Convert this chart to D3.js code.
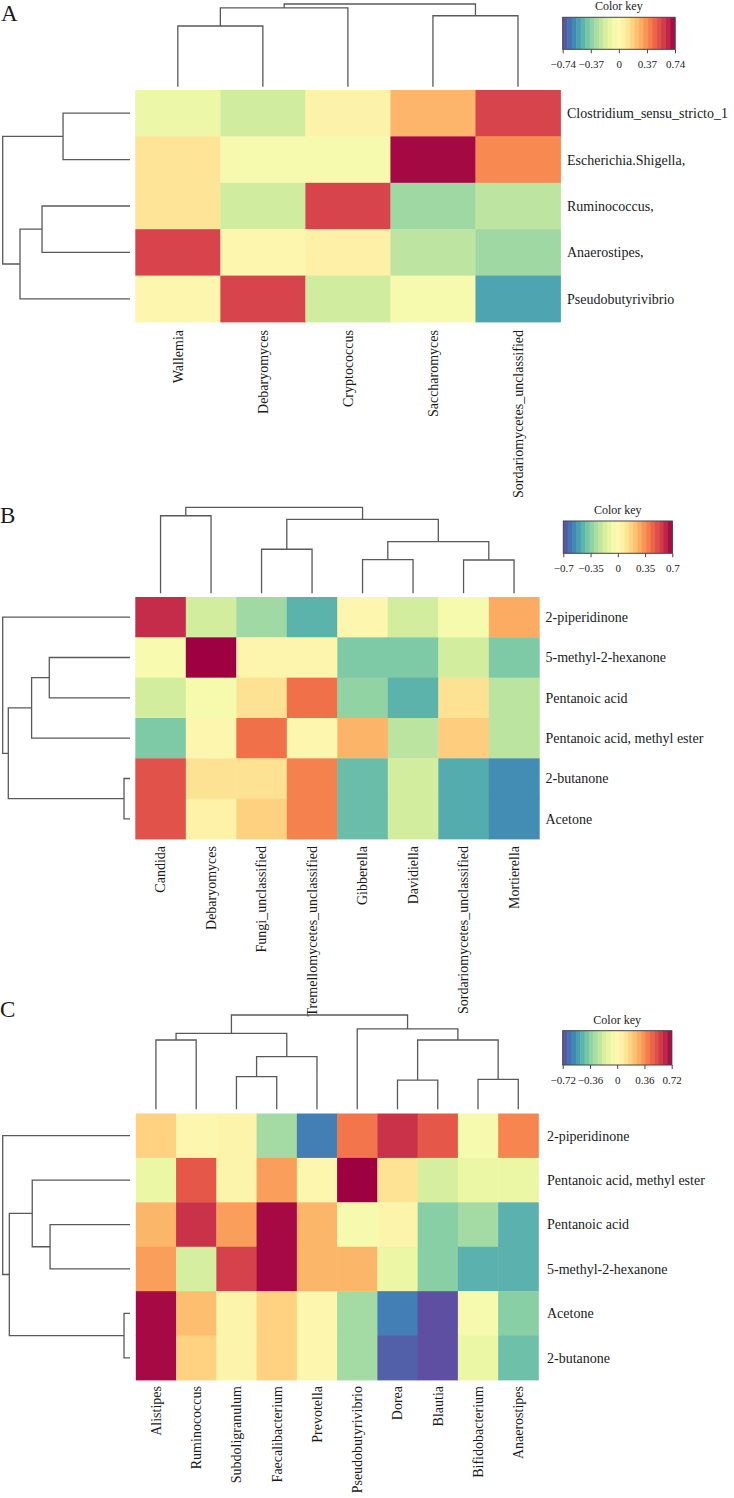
<!DOCTYPE html>
<html><head><meta charset="utf-8">
<script src="https://cdn.jsdelivr.net/npm/d3@7"></script>
<style>
body{margin:0;background:#fff}
svg{display:block}
text{font-family:"Liberation Serif","Times New Roman",serif;fill:#1a1a1a}
</style>
</head><body><svg id="chart" width="734" height="1498"></svg>
<script>
// ---------- Panel A ----------
const aRows = ["Clostridium_sensu_stricto_1","Escherichia.Shigella,","Ruminococcus,","Anaerostipes,","Pseudobutyrivibrio"];
const aCols = ["Wallemia","Debaryomyces","Cryptococcus","Saccharomyces","Sordariomycetes_unclassified"];
const aValues = [
  [-0.10,-0.20, 0.05, 0.27, 0.57],
  [ 0.12,-0.05,-0.05, 0.72, 0.38],
  [ 0.12,-0.20, 0.57,-0.32,-0.25],
  [ 0.57, 0.02, 0.06,-0.25,-0.32],
  [ 0.02, 0.57,-0.20,-0.05,-0.52]
];
const aRange = 0.74;
const aTicks = [-0.74,-0.37,0,0.37,0.74];
const aColTree = [["Wallemia","Debaryomyces",0.734],[0,"Cryptococcus",0.952],["Saccharomyces","Sordariomycetes_unclassified",0.858],[1,2,1]];
const aRowTree = [["Clostridium_sensu_stricto_1","Escherichia.Shigella,",0.526],["Ruminococcus,","Anaerostipes,",0.691],[1,"Pseudobutyrivibrio",0.864],[0,2,1]];

// ---------- Panel B ----------
const bRows = ["2-piperidinone","5-methyl-2-hexanone","Pentanoic acid","Pentanoic acid, methyl ester","2-butanone","Acetone"];
const bCols = ["Candida","Debaryomyces","Fungi_unclassified","Tremellomycetes_unclassified","Gibberella","Davidiella","Sordariomycetes_unclassified","Mortierella"];
const bValues = [
  [ 0.60,-0.18,-0.30,-0.45, 0.02,-0.18,-0.05, 0.28],
  [-0.03, 0.70, 0.03, 0.03,-0.37,-0.37,-0.18,-0.37],
  [-0.18,-0.05, 0.12, 0.42,-0.33,-0.45, 0.12,-0.24],
  [-0.37, 0.02, 0.42, 0.02, 0.26,-0.24, 0.19,-0.24],
  [ 0.50, 0.12, 0.12, 0.38,-0.42,-0.18,-0.47,-0.55],
  [ 0.50, 0.05, 0.18, 0.38,-0.42,-0.18,-0.47,-0.55]
];
const bRange = 0.7;
const bTicks = [-0.7,-0.35,0,0.35,0.7];
const bColTree = [["Candida","Debaryomyces",0.902],["Fungi_unclassified","Tremellomycetes_unclassified",0.512],["Gibberella","Davidiella",0.391],["Sordariomycetes_unclassified","Mortierella",0.387],[2,3,0.6],[1,4,0.86],[0,5,1]];
const bRowTree = [["2-butanone","Acetone",0.047],["5-methyl-2-hexanone","Pentanoic acid",0.634],[1,"Pentanoic acid, methyl ester",0.773],[2,0,0.956],["2-piperidinone",3,1]];

// ---------- Panel C ----------
const cRows = ["2-piperidinone","Pentanoic acid, methyl ester","Pentanoic acid","5-methyl-2-hexanone","Acetone","2-butanone"];
const cCols = ["Alistipes","Ruminococcus","Subdoligranulum","Faecalibacterium","Prevotella","Pseudobutyrivibrio","Dorea","Blautia","Bifidobacterium","Anaerostipes"];
const cValues = [
  [ 0.18, 0.02, 0.04,-0.30,-0.60, 0.42, 0.60, 0.50,-0.05, 0.38],
  [-0.10, 0.50, 0.04, 0.32, 0.02, 0.72, 0.12,-0.18,-0.10,-0.10],
  [ 0.26, 0.60, 0.32, 0.70, 0.26,-0.04, 0.04,-0.36,-0.30,-0.47],
  [ 0.32,-0.18, 0.56, 0.70, 0.26, 0.26,-0.10,-0.36,-0.47,-0.47],
  [ 0.70, 0.24, 0.04, 0.18, 0.02,-0.30,-0.60,-0.72,-0.05,-0.36],
  [ 0.70, 0.18, 0.04, 0.18, 0.02,-0.30,-0.68,-0.72,-0.10,-0.42]
];
const cRange = 0.72;
const cTicks = [-0.72,-0.36,0,0.36,0.72];
const cColTree = [["Alistipes","Ruminococcus",0.735],["Subdoligranulum","Faecalibacterium",0.346],[1,"Prevotella",0.558],[0,2,0.806],["Dorea","Blautia",0.31],["Bifidobacterium","Anaerostipes",0.318],[4,5,0.735],["Pseudobutyrivibrio",6,0.852],[3,7,1]];
const cRowTree = [["Acetone","2-butanone",0.047],["Pentanoic acid","5-methyl-2-hexanone",0.628],["Pentanoic acid, methyl ester",1,0.768],[2,0,0.948],["2-piperidinone",3,1]];

// ---------- drawing ----------
const svg = d3.select("#chart");
const LINE = "#595959";

function drawPanel(p, L){
  const g = svg.append("g");
  const x = d3.scaleBand().domain(p.cols).range([L.left, L.right]);
  const y = d3.scaleBand().domain(p.rows).range([L.top, L.bottom]);
  const color = d3.scaleSequential(d3.interpolateSpectral).domain([p.range, -p.range]);

  // panel letter
  g.append("text").attr("x", L.letterX).attr("y", L.letterY).attr("font-size", 23).text(p.letter);

  // cells
  const cells = [];
  p.values.forEach((row,i)=>row.forEach((v,j)=>cells.push({r:p.rows[i], c:p.cols[j], v})));
  g.append("g").selectAll("rect").data(cells).join("rect")
    .attr("x", d=>x(d.c)).attr("y", d=>y(d.r))
    .attr("width", x.bandwidth()+0.4).attr("height", y.bandwidth()+0.4)
    .attr("fill", d=>color(d.v));

  // row labels
  g.append("g").selectAll("text").data(p.rows).join("text")
    .attr("x", L.rowLabelX).attr("y", d=>y(d)+y.bandwidth()/2).attr("dy","0.35em")
    .attr("font-size", 14).text(d=>d);

  // column labels
  g.append("g").selectAll("text").data(p.cols).join("text")
    .attr("transform", d=>`translate(${x(d)+x.bandwidth()/2},${L.colLabelY}) rotate(-90)`)
    .attr("text-anchor","end").attr("dy","0.35em")
    .attr("font-size", 14).text(d=>d);

  // column dendrogram
  const hc = d3.scaleLinear().domain([0,1]).range([L.colLeaf, L.colRoot]);
  const cNodes = [];
  const cPos = ref => typeof ref === "number" ? cNodes[ref] : {c:x(ref)+x.bandwidth()/2, h:0};
  const cPaths = [];
  p.colTree.forEach(m=>{
    const a=cPos(m[0]), b=cPos(m[1]);
    cPaths.push(`M${a.c},${hc(a.h)}V${hc(m[2])}H${b.c}V${hc(b.h)}`);
    cNodes.push({c:(a.c+b.c)/2, h:m[2]});
  });
  g.append("g").selectAll("path").data(cPaths).join("path")
    .attr("d", d=>d).attr("fill","none").attr("stroke",LINE).attr("stroke-width",1.3);

  // row dendrogram
  const hr = d3.scaleLinear().domain([0,1]).range([L.rowLeaf, L.rowRoot]);
  const rNodes = [];
  const rPos = ref => typeof ref === "number" ? rNodes[ref] : {c:y(ref)+y.bandwidth()/2, h:0};
  const rPaths = [];
  p.rowTree.forEach(m=>{
    const a=rPos(m[0]), b=rPos(m[1]);
    rPaths.push(`M${hr(a.h)},${a.c}H${hr(m[2])}V${b.c}H${hr(b.h)}`);
    rNodes.push({c:(a.c+b.c)/2, h:m[2]});
  });
  g.append("g").selectAll("path").data(rPaths).join("path")
    .attr("d", d=>d).attr("fill","none").attr("stroke",LINE).attr("stroke-width",1.3);

  // colour key
  const k = d3.scaleLinear().domain([-p.range, p.range]).range([L.keyX0, L.keyX1]);
  const nb = 25, step = 2*p.range/nb;
  const bands = d3.range(nb).map(i=>-p.range + i*step);
  const kg = g.append("g");
  kg.selectAll("rect").data(bands).join("rect")
    .attr("x", d=>k(d)).attr("y", L.keyY0)
    .attr("width", k(step)-k(0)+0.5).attr("height", L.keyY1-L.keyY0)
    .attr("fill", d=>color(d+step/2));
  kg.append("rect").attr("x",L.keyX0).attr("y",L.keyY0)
    .attr("width",L.keyX1-L.keyX0).attr("height",L.keyY1-L.keyY0)
    .attr("fill","none").attr("stroke","#444").attr("stroke-width",1);
  kg.append("text").attr("x",(L.keyX0+L.keyX1)/2).attr("y",L.keyY0-7)
    .attr("text-anchor","middle").attr("font-size",12).text("Color key");
  const ax = kg.append("g").attr("transform",`translate(0,${L.keyY1})`)
    .call(d3.axisBottom(k).tickValues(p.ticks).tickSize(4).tickPadding(7)
      .tickFormat(d=> d===0 ? "0" : (d<0?"\u2212":"") + Math.abs(d)));
  ax.select(".domain").remove();
  ax.selectAll("line").attr("stroke","#444");
  ax.selectAll("text").attr("font-size",11).attr("font-family","Liberation Serif, serif").attr("fill","#1a1a1a");
}

drawPanel(
  {letter:"A", rows:aRows, cols:aCols, values:aValues, range:aRange, ticks:aTicks, colTree:aColTree, rowTree:aRowTree},
  {left:135.3, right:560.5, top:90, bottom:322, rowLabelX:567, colLabelY:330,
   colLeaf:86.7, colRoot:4, rowLeaf:130, rowRoot:2.7,
   keyX0:562.7, keyX1:675, keyY0:17.3, keyY1:49.3, letterX:1, letterY:21});

drawPanel(
  {letter:"B", rows:bRows, cols:bCols, values:bValues, range:bRange, ticks:bTicks, colTree:bColTree, rowTree:bRowTree},
  {left:135.3, right:539.3, top:597, bottom:839, rowLabelX:545.5, colLabelY:846,
   colLeaf:593.3, colRoot:507.3, rowLeaf:130, rowRoot:2.7,
   keyX0:563.3, keyX1:672.3, keyY0:521, keyY1:553.3, letterX:0, letterY:523});

drawPanel(
  {letter:"C", rows:cRows, cols:cCols, values:cValues, range:cRange, ticks:cTicks, colTree:cColTree, rowTree:cRowTree},
  {left:135.8, right:538.4, top:1113.5, bottom:1380, rowLabelX:547, colLabelY:1386,
   colLeaf:1109.3, colRoot:1015, rowLeaf:130, rowRoot:2.7,
   keyX0:562.7, keyX1:671.7, keyY0:1030.7, keyY1:1065, letterX:0, letterY:1017});
</script>
</body></html>
